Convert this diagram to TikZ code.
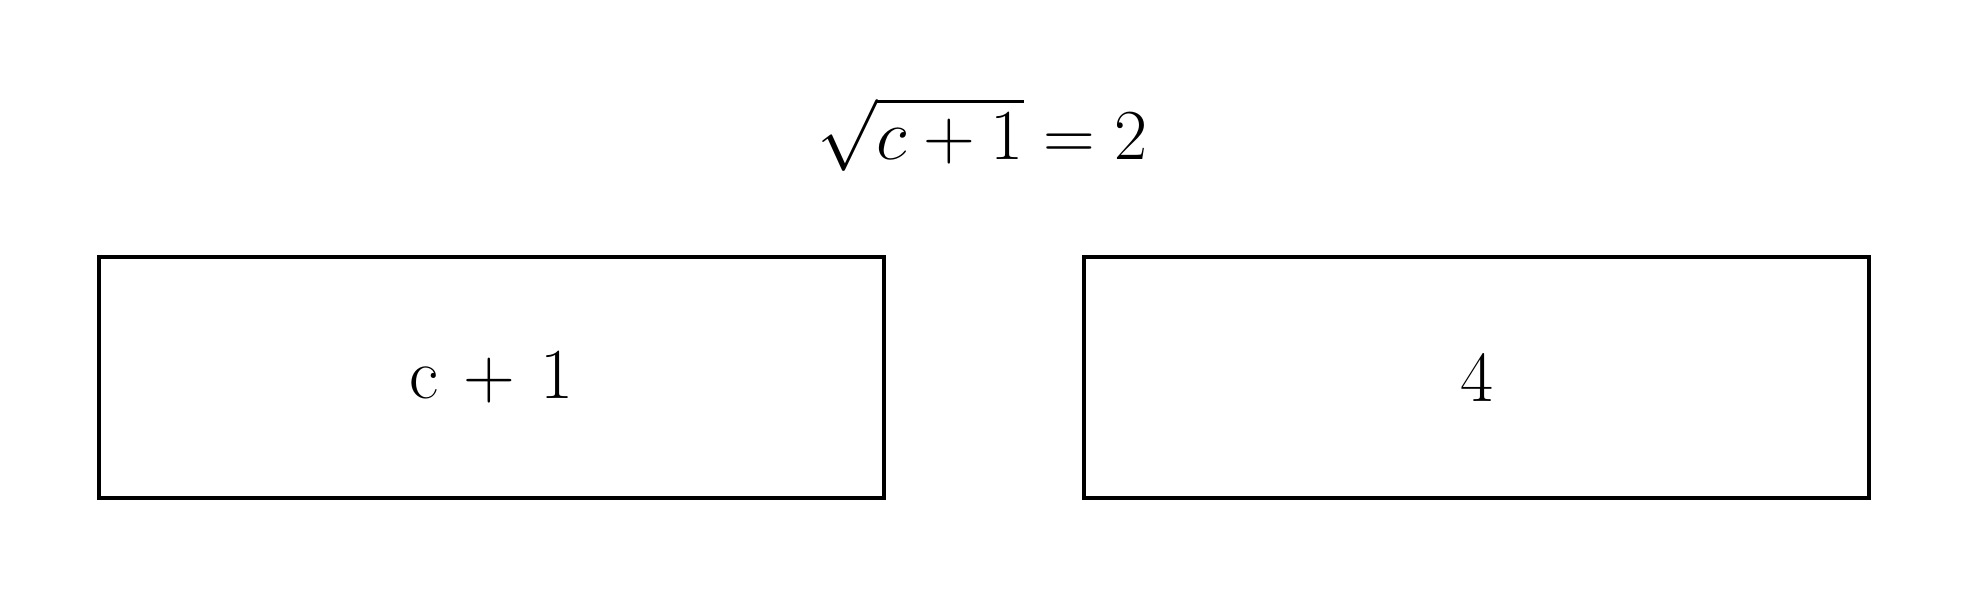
\documentclass[tikz,border=0pt]{standalone}
\usepackage{amsmath, amssymb}
\usepackage{tikz}
\usetikzlibrary{positioning}

\begin{document}
\begin{tikzpicture}[every node/.style={font=\huge}, box/.style={rectangle, draw, line width=1pt, minimum width=7.973cm, minimum height=2.448cm, inner sep=0pt}]
    \useasboundingbox (0,0) rectangle (20,6.084);
    % Equation
    \node (eq) at (9.98, 4.72) {$\sqrt{c+1} = 2$};
    
    % Sides
    \node[box] (lhs) at (4.992, 2.25) {c\kern1pt{} + \kern1pt1};
    \node[box] (rhs) at (14.997, 2.25) {4};
    
\end{tikzpicture}
\end{document}
